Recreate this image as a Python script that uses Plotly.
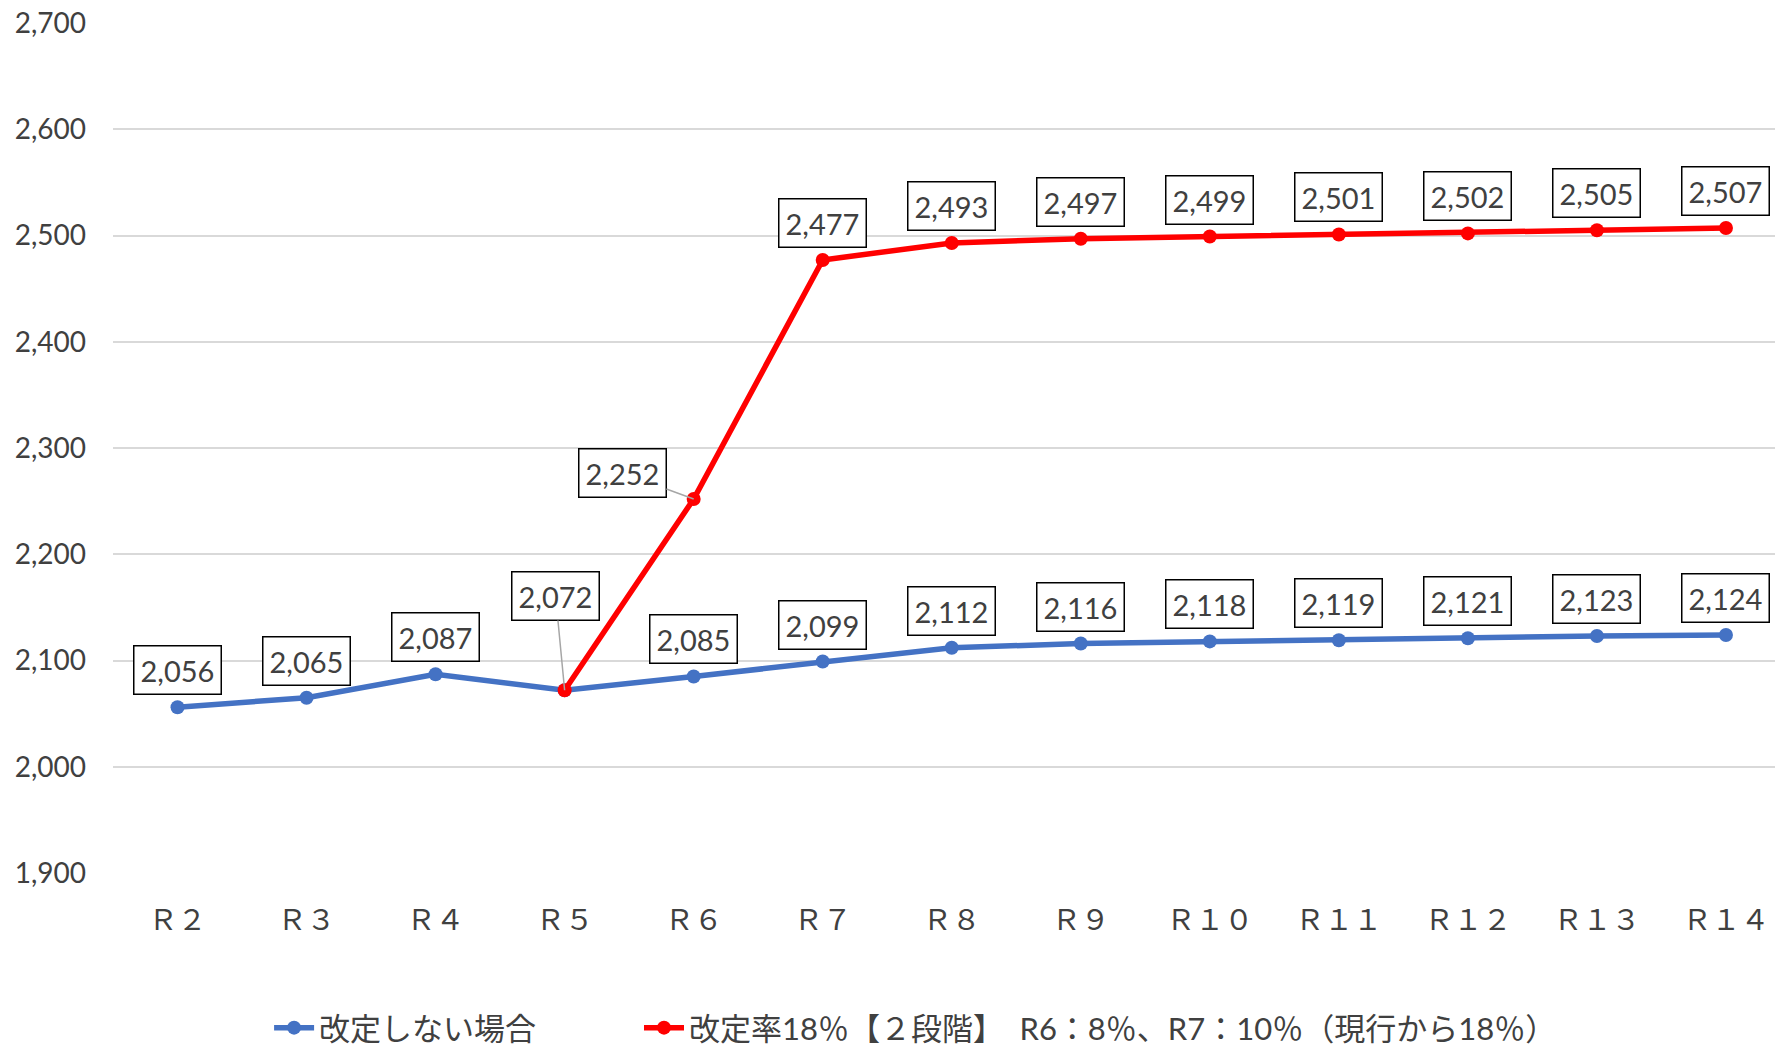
import plotly.graph_objects as go

# Fiscal years (Reiwa)
categories = ["Ｒ２", "Ｒ３", "Ｒ４", "Ｒ５", "Ｒ６", "Ｒ７", "Ｒ８", "Ｒ９",
              "Ｒ１０", "Ｒ１１", "Ｒ１２", "Ｒ１３", "Ｒ１４"]

# No revision
base_values = [2056, 2065, 2087, 2072, 2085, 2099, 2112, 2116, 2118, 2119, 2121, 2123, 2124]

# 18% revision in two steps (starts at R5)
revised_values = [None, None, None, 2072, 2252, 2477, 2493, 2497, 2499, 2501, 2502, 2505, 2507]

base_name = "改定しない場合"
revised_name = "改定率18％【２段階】　R6：8％、R7：10％（現行から18％）"

y_ticks = [1900, 2000, 2100, 2200, 2300, 2400, 2500, 2600, 2700]

FONT = "Lato, 'Noto Sans CJK JP', sans-serif"
TEXT = "#404040"
BLUE = "#4472C4"
RED = "#FF0000"

fig = go.Figure()
fig.add_trace(go.Scatter(
    x=categories, y=base_values, name=base_name, mode="lines+markers",
    line=dict(color=BLUE, width=5.5), marker=dict(color=BLUE, size=14),
    legend="legend",
))
fig.add_trace(go.Scatter(
    x=categories, y=revised_values, name=revised_name, mode="lines+markers",
    line=dict(color=RED, width=5.5), marker=dict(color=RED, size=14),
    legend="legend2",
))

label_style = dict(
    font=dict(family=FONT, size=29, color=TEXT),
    bgcolor="white", bordercolor="black", borderwidth=1.5, borderpad=6,
)

# Value labels for the base series
for i, (cat, v) in enumerate(zip(categories, base_values)):
    if i == 3:
        # leader line to the shared R5 point
        fig.add_annotation(x=cat, y=v, text=f"{v:,}", showarrow=True,
                           arrowhead=0, arrowwidth=1.5, arrowcolor="#A6A6A6",
                           standoff=0, ax=-9, ay=-94, **label_style)
    else:
        fig.add_annotation(x=cat, y=v, text=f"{v:,}", showarrow=False,
                           yshift=37, **label_style)

# Value labels for the revised series
for i, (cat, v) in enumerate(zip(categories, revised_values)):
    if v is None or i == 3:
        continue
    if i == 4:
        fig.add_annotation(x=cat, y=v, text=f"{v:,}", showarrow=True,
                           arrowhead=0, arrowwidth=1.5, arrowcolor="#A6A6A6",
                           standoff=0, ax=-71, ay=-26, **label_style)
    else:
        fig.add_annotation(x=cat, y=v, text=f"{v:,}", showarrow=False,
                           yshift=37, **label_style)

legend_common = dict(
    orientation="h", xref="container", yref="container",
    y=0.0, xanchor="left", yanchor="bottom",
    font=dict(family=FONT, size=31, color=TEXT),
    itemwidth=40, bgcolor="rgba(0,0,0,0)",
)

fig.update_layout(
    width=1775, height=1055,
    margin=dict(l=113, r=0, t=23, b=182),
    paper_bgcolor="white", plot_bgcolor="white",
    font=dict(family=FONT, color=TEXT),
    showlegend=True,
    legend=dict(x=0.1516, **legend_common),
    legend2=dict(x=0.36, **legend_common),
)
fig.update_xaxes(
    type="category", range=[-0.5, 12.38],
    showgrid=False, showline=False, ticks="",
    tickfont=dict(family=FONT, size=29, color=TEXT),
    ticklabelstandoff=27,
)
fig.update_yaxes(
    range=[1900, 2700], tickvals=y_ticks, tickformat=",d",
    showgrid=True, gridcolor="#D9D9D9", gridwidth=2,
    zeroline=False, showline=False, ticks="",
    tickfont=dict(family=FONT, size=28, color=TEXT),
    ticklabelstandoff=26,
)

fig.write_html("out.html")
